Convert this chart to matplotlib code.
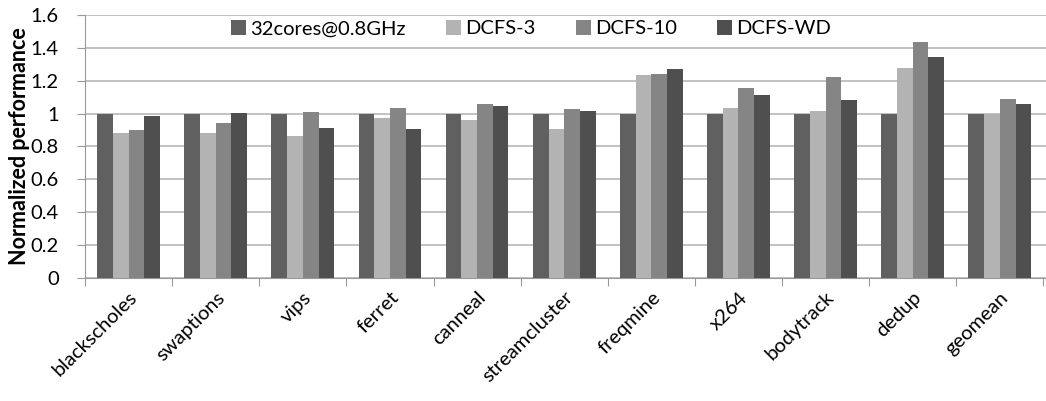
import numpy as np
import matplotlib.pyplot as plt

plt.rcParams['font.family'] = ['Lato', 'DejaVu Sans']

benchmarks = ['blackscholes', 'swaptions', 'vips', 'ferret', 'canneal',
              'streamcluster', 'freqmine', 'x264', 'bodytrack', 'dedup', 'geomean']
series_names = ['32cores@0.8GHz', 'DCFS-3', 'DCFS-10', 'DCFS-WD']
base = [1.0, 1.0, 1.0, 1.0, 1.0, 1.0, 1.0, 1.0, 1.0, 1.0, 1.0]
dcfs3 = [0.884, 0.880, 0.862, 0.976, 0.961, 0.909, 1.232, 1.037, 1.018, 1.280, 0.998]
dcfs10 = [0.898, 0.941, 1.008, 1.033, 1.061, 1.028, 1.238, 1.157, 1.220, 1.433, 1.089]
dcfswd = [0.986, 1.004, 0.911, 0.904, 1.047, 1.014, 1.270, 1.114, 1.085, 1.346, 1.061]
colors = ['#606060', '#b3b3b3', '#858585', '#4f4f4f']

fig = plt.figure(figsize=(10.46, 4.01), dpi=100)
ax = fig.add_axes([0.0813, 0.3067, 0.9187, 0.656])

x = np.arange(len(benchmarks))
w = 0.18
for i, vals in enumerate([base, dcfs3, dcfs10, dcfswd]):
    ax.bar(x + (i - 1.5) * w, vals, w, color=colors[i], label=series_names[i],
           zorder=3, linewidth=0)

ax.set_xlim(-0.5, len(benchmarks) - 0.5 + 0.03)
ax.set_ylim(0, 1.6)
ax.set_yticks(np.arange(0, 1.61, 0.2))
ax.set_yticklabels(['0', '0.2', '0.4', '0.6', '0.8', '1', '1.2', '1.4', '1.6'], fontsize=14.5)
ax.yaxis.grid(True, color='#bdbdbd', linewidth=1.3, zorder=0)
ax.tick_params(axis='y', length=6, color='#999999', pad=13)

# category separators below the axis
ax.set_xticks(np.arange(len(benchmarks) + 1) - 0.5, minor=False)
ax.set_xticklabels([])
ax.tick_params(axis='x', length=6, color='#999999', direction='out')
for xi, name in zip(x, benchmarks):
    ax.text(xi, -0.065, name, rotation=45, ha='right', va='top',
            fontsize=14.5, rotation_mode='anchor', transform=ax.transData)

for s in ['top', 'right']:
    ax.spines[s].set_visible(False)
ax.spines['left'].set_color('#999999')
ax.spines['bottom'].set_color('#999999')

ax.set_ylabel('Normalized performance', fontsize=15.5, fontweight='bold', labelpad=0)

ax.legend(loc='upper center', bbox_to_anchor=(0.464, 1.05), ncol=4, frameon=False,
          fontsize=14.5, handlelength=0.75, handleheight=0.75, handletextpad=0.2,
          columnspacing=2.0)

fig.savefig('out.png', dpi=100)
